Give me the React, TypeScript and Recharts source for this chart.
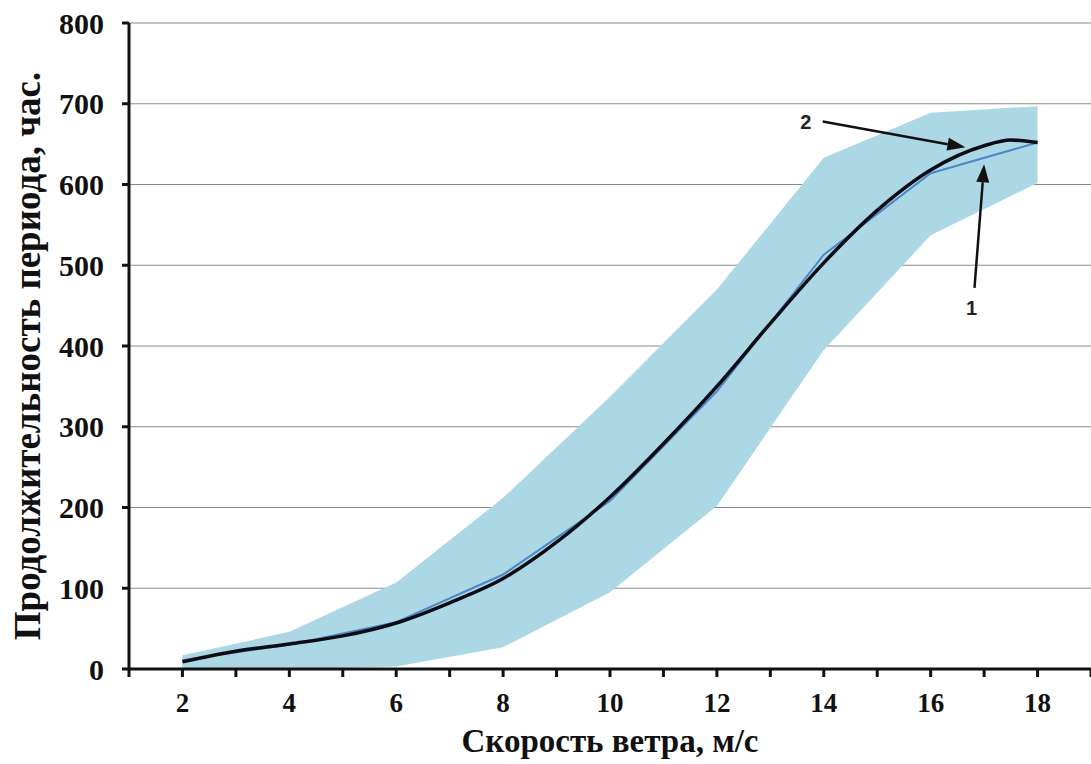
import {
  ComposedChart,
  Area,
  Line,
  XAxis,
  YAxis,
  CartesianGrid,
  ReferenceLine,
} from "recharts";

// wind speed points where the band and observed line are given
const bandSpeeds = [2, 4, 6, 8, 10, 12, 14, 16, 18];
const bandLow = [0, 0, 3, 27, 95, 202, 395, 537, 602];
const bandHigh = [17, 46, 107, 212, 337, 470, 633, 689, 697];
const observed = [11, 30, 58, 117, 208, 344, 513, 614, 652];

// smoothed (approximation) curve
const fitSpeeds = [2, 3, 4, 5, 6, 7, 8, 9, 10, 11, 12, 13, 14, 15, 16, 17, 17.5, 18];
const fitValues = [9, 22, 31, 41, 57, 82, 112, 157, 213, 279, 350, 428, 503, 568, 618, 648, 655, 652];

const xTicks = [1, 2, 3, 4, 5, 6, 7, 8, 9, 10, 11, 12, 13, 14, 15, 16, 17, 18, 19];
const yTicks = [0, 100, 200, 300, 400, 500, 600, 700, 800];

const bandData = bandSpeeds.map((x, i) => ({
  x,
  range: [bandLow[i], bandHigh[i]],
  obs: observed[i],
}));
const fitData = fitSpeeds.map((x, i) => ({ x, fit: fitValues[i] }));

const serif = "'Liberation Serif', 'Times New Roman', serif";

const arrow = (label: string, labelDx: number, labelDy: number) => (p: any) => {
  const { x1, y1, x2, y2 } = p;
  const ang = Math.atan2(y2 - y1, x2 - x1);
  const len = 18;
  const w = 6.5;
  const bx = x2 - len * Math.cos(ang);
  const by = y2 - len * Math.sin(ang);
  const px = -Math.sin(ang) * w;
  const py = Math.cos(ang) * w;
  return (
    <g>
      <line x1={x1} y1={y1} x2={bx} y2={by} stroke="#111" strokeWidth={2.5} />
      <polygon
        points={`${x2},${y2} ${bx + px},${by + py} ${bx - px},${by - py}`}
        fill="#111"
      />
      <text
        x={x1 + labelDx}
        y={y1 + labelDy}
        textAnchor="middle"
        dominantBaseline="central"
        fontFamily="'Liberation Sans', Arial, sans-serif"
        fontWeight="bold"
        fontSize={20}
        fill="#222"
      >
        {label}
      </text>
    </g>
  );
};

export default function App() {
  return (
    <div style={{ position: "absolute", left: 0, top: 0, width: 1091, height: 764, overflow: "hidden", background: "#fff" }}>
      <ComposedChart
        width={1091}
        height={764}
        margin={{ top: 23, right: 0, bottom: 35, left: 0 }}
      >
        <CartesianGrid vertical={false} stroke="#8a8a8a" strokeWidth={1.2} />
        <XAxis
          type="number"
          dataKey="x"
          domain={[1, 19]}
          ticks={xTicks}
          height={60}
          allowDataOverflow
          tickFormatter={(v: number) => (v % 2 === 0 ? String(v) : "")}
          tickSize={8}
          tickMargin={16}
          axisLine={{ stroke: "#111", strokeWidth: 3 }}
          tickLine={{ stroke: "#111", strokeWidth: 3 }}
          tick={{ fill: "#111", fontFamily: serif, fontWeight: "bold", fontSize: 27 }}
          label={{
            value: "Скорость ветра, м/с",
            position: "insideBottom",
            offset: 0,
            dy: 23,
            fill: "#111",
            fontFamily: serif,
            fontWeight: "bold",
            fontSize: 33,
          }}
        />
        <YAxis
          type="number"
          domain={[0, 800]}
          ticks={yTicks}
          width={129}
          tickSize={7}
          tickMargin={18}
          axisLine={{ stroke: "#111", strokeWidth: 3 }}
          tickLine={{ stroke: "#111", strokeWidth: 3 }}
          tick={{ fill: "#111", fontFamily: serif, fontWeight: "bold", fontSize: 30 }}
          label={{
            value: "Продолжительность периода, час.",
            angle: -90,
            position: "insideLeft",
            dx: 22,
            dy: 10,
            fill: "#111",
            fontFamily: serif,
            fontWeight: "bold",
            fontSize: 37,
            style: { textAnchor: "middle" },
          }}
        />
        <Area
          data={bandData}
          dataKey="range"
          type="linear"
          stroke="none"
          fill="#acd8e6"
          fillOpacity={1}
          isAnimationActive={false}
          activeDot={false}
        />
        <Line
          data={bandData}
          dataKey="obs"
          type="linear"
          stroke="#4f86c6"
          strokeWidth={2}
          dot={false}
          isAnimationActive={false}
        />
        <Line
          data={fitData}
          dataKey="fit"
          type="monotone"
          stroke="#0c0c14"
          strokeWidth={3.5}
          dot={false}
          isAnimationActive={false}
        />
        <ReferenceLine
          segment={[{ x: 13.98, y: 678 }, { x: 16.65, y: 646 }]}
          ifOverflow="visible"
          shape={arrow("2", -17, 0)}
        />
        <ReferenceLine
          segment={[{ x: 16.82, y: 472 }, { x: 17.0, y: 625 }]}
          ifOverflow="visible"
          shape={arrow("1", -3, 20)}
        />
      </ComposedChart>
    </div>
  );
}
